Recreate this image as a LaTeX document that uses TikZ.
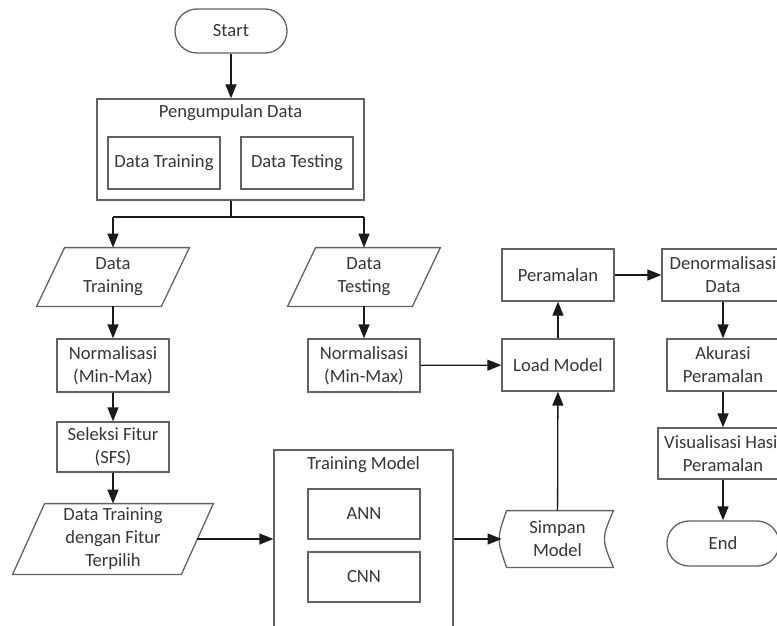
\documentclass[tikz,border=0pt]{standalone}
\usepackage{fontspec}
\setmainfont{Carlito}
\usetikzlibrary{arrows.meta}
\definecolor{bordc}{HTML}{626262}
\definecolor{txtc}{HTML}{363636}
\definecolor{arrc}{HTML}{1A1A1A}
\begin{document}
\begin{tikzpicture}[x=0.5pt,y=-0.5pt,
  every node/.style={font=\fontsize{9.3}{11.5}\selectfont, text=txtc, align=center, inner sep=0pt},
  proc/.style={draw=bordc, line width=0.65pt, minimum width=56pt, minimum height=26pt},
  term/.style={draw=bordc, line width=0.65pt, rounded corners=11pt, minimum width=56pt, minimum height=22pt},
  bord/.style={draw=bordc, line width=0.65pt},
  conn/.style={line width=0.65pt, draw=arrc, -{Triangle[length=7pt,width=5.5pt]}},
  plain/.style={line width=0.65pt, draw=arrc}
]
\useasboundingbox (0,0) rectangle (777,626);
\clip (0,0) rectangle (777,626);

% top
\node[term] (start) at (231,31) {Start};
\node[proc, minimum width=133.5pt, minimum height=50.5pt] (kumpul) at (230.5,149.5) {};
\node (kumpult) at (230.5,113) {Pengumpulan Data};
\node[proc] (dtr) at (164,163) {Data Training};
\node[proc] (dts) at (297,163) {Data Testing};
\coordinate (split) at (231,217);

% left column
\node[minimum width=76pt, minimum height=29pt] (ptr) at (113,277) {Data\\Training};
\draw[bord] ([xshift=14pt]ptr.north west) -- (ptr.north east) -- ([xshift=-14pt]ptr.south east) -- (ptr.south west) -- cycle;
\node[proc, minimum height=26.5pt] (ntr) at (113,365.5) {Normalisasi\\(Min-Max)};
\node[proc, minimum height=25pt] (sfs) at (113,447) {Seleksi Fitur\\(SFS)};
\node[minimum width=100pt, minimum height=35pt] (pf) at (113,539) {Data Training\\dengan Fitur\\Terpilih};
\draw[bord] ([xshift=16pt]pf.north west) -- (pf.north east) -- ([xshift=-16pt]pf.south east) -- (pf.south west) -- cycle;

% middle column
\node[minimum width=76pt, minimum height=29pt] (pts) at (364,277) {Data\\Testing};
\draw[bord] ([xshift=14pt]pts.north west) -- (pts.north east) -- ([xshift=-14pt]pts.south east) -- (pts.south west) -- cycle;
\node[proc, minimum height=26.5pt] (nts) at (364,365.5) {Normalisasi\\(Min-Max)};
\node[proc, minimum width=89.5pt, minimum height=125pt] (tm) at (363.5,575) {};
\node (tmt) at (363.5,465) {Training Model};
\node[proc, minimum height=25pt] (ann) at (364,514) {ANN};
\node[proc, minimum height=25pt] (cnn) at (364,577) {CNN};

% storage
\node[minimum width=55.5pt, minimum height=28pt] (simp) at (557.5,539) {Simpan\\Model};
\draw[bord] ([xshift=2.5pt]simp.north west) -- (simp.north east)
  .. controls ([xshift=-6pt]simp.east) .. (simp.south east)
  -- ([xshift=2.5pt]simp.south west)
  .. controls ([xshift=-2.5pt]simp.west) .. ([xshift=2.5pt]simp.north west) -- cycle;

% right part
\node[proc] (load) at (558,365) {Load Model};
\node[proc] (peram) at (558,275) {Peramalan};
\node[proc, minimum width=61pt] (denorm) at (723,275) {Denormalisasi\\Data};
\node[proc] (akur) at (723,365) {Akurasi\\Peramalan};
\node[proc, minimum width=65pt, minimum height=25.5pt] (vis) at (723,453.5) {Visualisasi Hasil\\Peramalan};
\node[term, minimum height=22.5pt] (end) at (723,543.5) {End};

% connectors
\draw[conn] (start.south) -- (start.south |- kumpul.north);
\draw[plain] (start.south |- kumpul.south) -- (split);
\draw[plain] (ptr.north |- split) -- (pts.north |- split);
\draw[conn] (ptr.north |- split) -- (ptr.north);
\draw[conn] (pts.north |- split) -- (pts.north);
\draw[conn] (ptr) -- (ntr);
\draw[conn] (ntr) -- (sfs);
\draw[conn] (sfs) -- (pf);
\draw[conn] ([xshift=-8pt]pf.east) -- (tm.west |- pf.east);
\draw[conn] (tm.east |- simp.west) -- (simp.west);
\draw[conn] (simp) -- (load);
\draw[conn] (pts) -- (nts);
\draw[conn] (nts) -- (load);
\draw[conn] (load) -- (peram);
\draw[conn] (peram) -- (denorm);
\draw[conn] (denorm) -- (akur);
\draw[conn] (akur) -- (vis);
\draw[conn] (vis) -- (end);
\end{tikzpicture}
\end{document}
